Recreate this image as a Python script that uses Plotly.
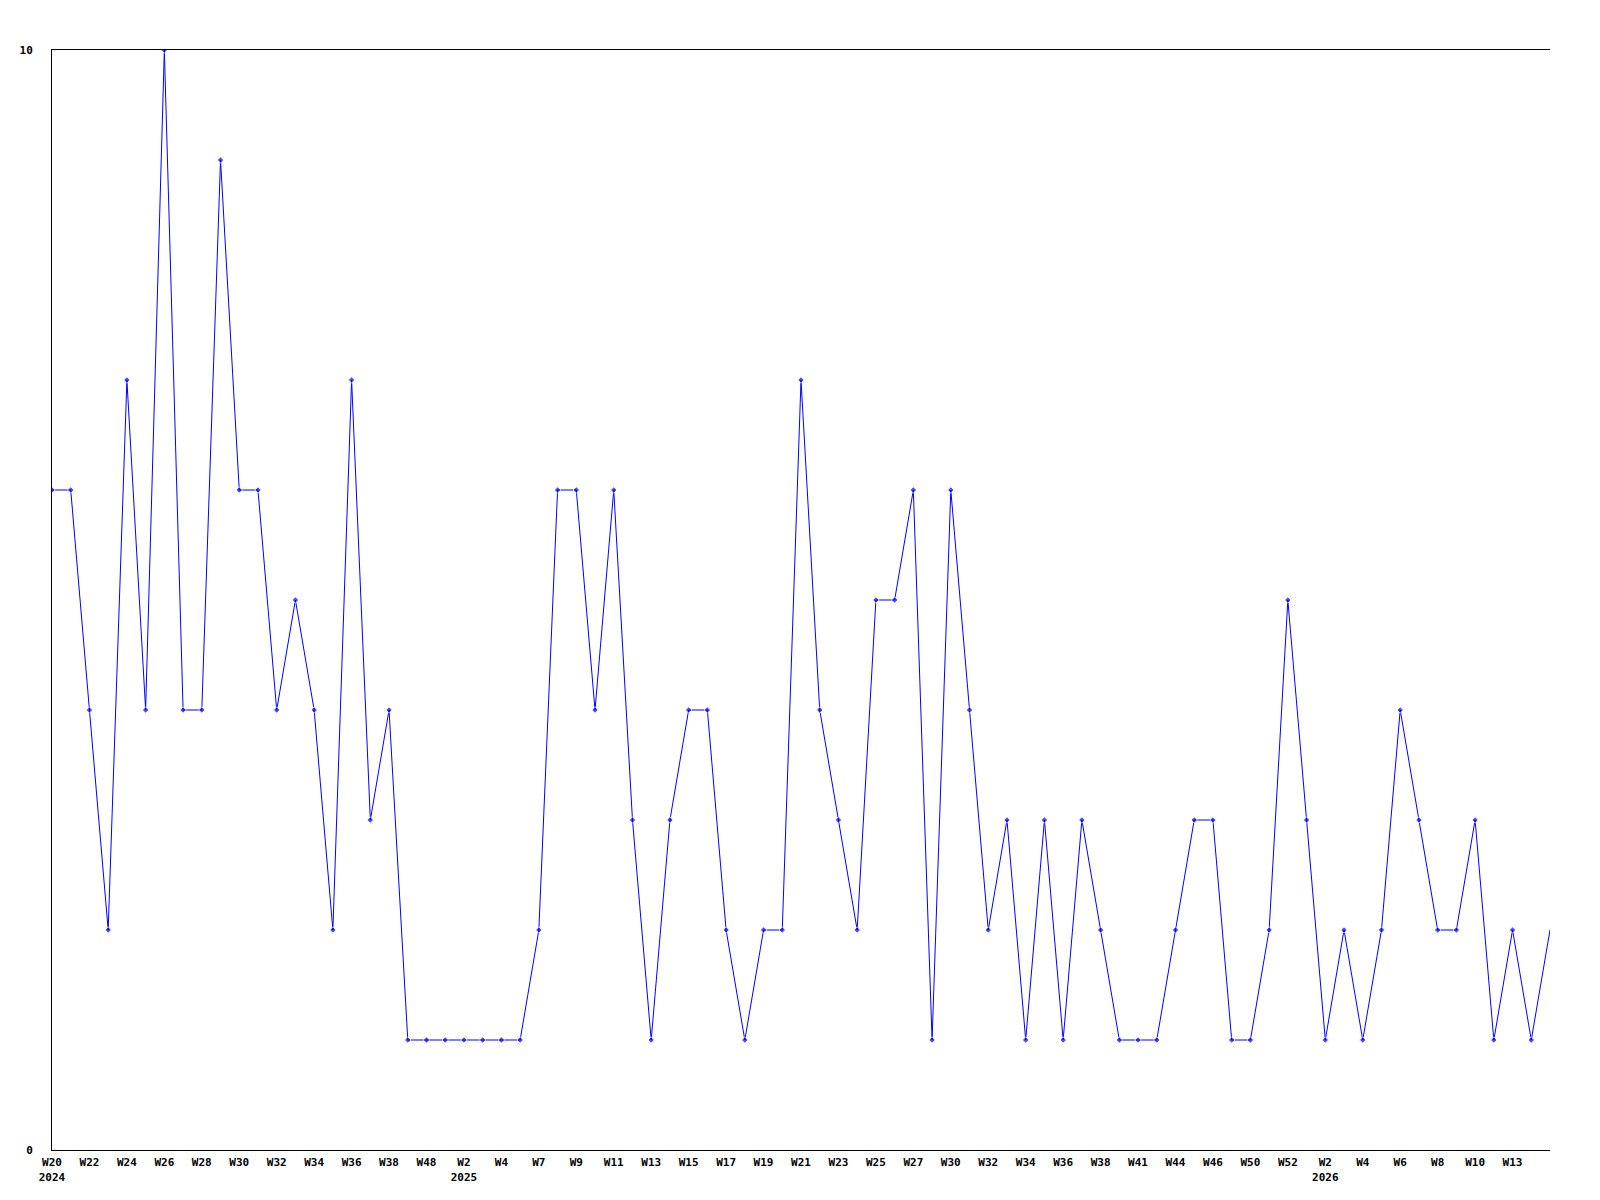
import plotly.graph_objects as go

weeks = ["W20", "W21", "W22", "W23", "W24", "W25", "W26", "W27", "W28", "W29",
         "W30", "W31", "W32", "W33", "W34", "W35", "W36", "W37", "W38", "W40",
         "W48", "W50", "W2", "W3", "W4", "W6", "W7", "W8", "W9", "W10",
         "W11", "W12", "W13", "W14", "W15", "W16", "W17", "W18", "W19", "W20",
         "W21", "W22", "W23", "W24", "W25", "W26", "W27", "W29", "W30", "W31",
         "W32", "W33", "W34", "W35", "W36", "W37", "W38", "W40", "W41", "W43",
         "W44", "W45", "W46", "W48", "W50", "W51", "W52", "W1", "W2", "W3",
         "W4", "W5", "W6", "W7", "W8", "W9", "W10", "W12", "W13", "W14", "W15"]
years = ["2024"] * 22 + ["2025"] * 45 + ["2026"] * 14

values = [6, 6, 4, 2, 7, 4, 10, 4, 4, 9,
          6, 6, 4, 5, 4, 2, 7, 3, 4, 1,
          1, 1, 1, 1, 1, 1, 2, 6, 6, 4,
          6, 3, 1, 3, 4, 4, 2, 1, 2, 2,
          7, 4, 3, 2, 5, 5, 6, 1, 6, 4,
          2, 3, 1, 3, 1, 3, 2, 1, 1, 1,
          2, 3, 3, 1, 1, 2, 5, 3, 1, 2,
          1, 2, 4, 3, 2, 2, 3, 1, 2, 1, 2]

idx = list(range(len(values)))

tickvals = []
ticktext = []
seen_years = set()
for i in range(0, len(weeks) - 1, 2):
    label = weeks[i]
    if years[i] not in seen_years:
        seen_years.add(years[i])
        label = label + "<br>" + years[i]
    tickvals.append(i)
    ticktext.append(label)

marker_sizes = [5] * (len(values) - 1) + [0]

fig = go.Figure()
fig.add_trace(go.Scatter(
    x=idx, y=values, mode="lines+markers",
    line=dict(color="#0000FF", width=1),
    marker=dict(symbol="diamond", size=marker_sizes, color="#0000FF"),
    hoverinfo="skip", cliponaxis=True,
))

font = dict(family="DejaVu Sans Mono", size=11, color="black", weight="bold")

fig.update_layout(
    width=1600, height=1200,
    margin=dict(l=42, r=58, t=42, b=58),
    paper_bgcolor="white", plot_bgcolor="white",
    showlegend=False,
    font=font,
    xaxis=dict(
        range=[0, len(values) - 1], tickvals=tickvals, ticktext=ticktext,
        showgrid=False, zeroline=False, showline=True, linecolor="black",
        linewidth=1, mirror=True, ticks="", tickfont=font,
        ticklabelstandoff=2,
    ),
    yaxis=dict(
        range=[0, 10], tickvals=[0, 10], ticktext=["0", "10"],
        showgrid=False, zeroline=False, showline=True, linecolor="black",
        linewidth=1, ticks="", tickfont=font, ticklabelstandoff=16,
    ),
)

fig.write_html("out.html")
